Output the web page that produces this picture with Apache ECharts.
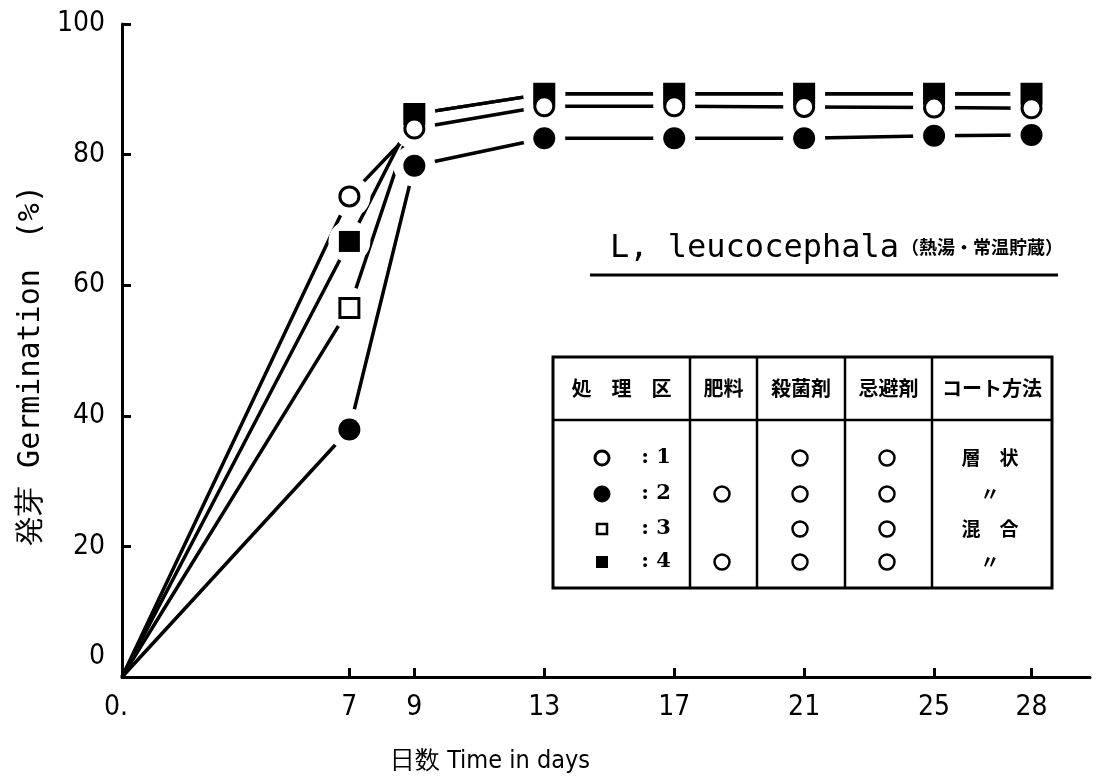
<!DOCTYPE html>
<html>
<head>
<meta charset="utf-8">
<script src="https://cdn.jsdelivr.net/npm/echarts@6/dist/echarts.min.js"></script>
<style>html,body{margin:0;padding:0;background:#fff}#c{width:1098px;height:779px}</style>
</head>
<body>
<div id="c"></div>
<script>
// ---- data ----
const days = [0, 7, 9, 13, 17, 21, 25, 28];
const s1 = [0, 73.6, 84.0, 87.4, 87.4, 87.3, 87.2, 87.1];   // open circle
const s2 = [0, 37.9, 78.3, 82.5, 82.5, 82.5, 82.9, 83.0];   // filled circle
const s3 = [0, 56.5, 86.2, 89.3, 89.3, 89.3, 89.3, 89.3];   // open square
const s4 = [0, 66.7, 86.2, 89.3, 89.3, 89.3, 89.3, 89.3];   // filled square
const yTicks = [0, 20, 40, 60, 80, 100];
const xTickDays = [7, 9, 13, 17, 21, 25, 28];
const xLabelDays = [0, 7, 9, 13, 17, 21, 25, 28];
const yName = '発芽 Germination　(%)';
const xName = '日数 Time in days';
const titleLatin = 'L, leucocephala';
const titleJa = '（熱湯・常温貯蔵）';
const tableHeaders = ['処　理　区', '肥料', '殺菌剤', '忌避剤', 'コート方法'];
const tableRowLabels = [': 1', ': 2', ': 3', ': 4'];
const tableFertilizer = [false, true, false, true];
const tableFungicide = [true, true, true, true];
const tableRepellent = [true, true, true, true];
const tableMethod = ['層　状', '〃', '混　合', '〃'];

const pts = a => days.map((d, i) => [d, a[i]]);
const marks = a => days.slice(1).map((d, i) => [d, a[i + 1]]);

const chart = echarts.init(document.getElementById('c'));
const LBL = '"DejaVu Sans Condensed", sans-serif';
const MONO = '"DejaVu Sans Mono", "Liberation Mono", monospace';
const JP = '"Noto Sans CJK JP", sans-serif';

const lineSeries = [s1, s2, s3, s4].map(a => ({
  type: 'line', data: pts(a), symbol: 'none', silent: true, z: 1, zlevel: 0,
  lineStyle: { color: '#000', width: 3.5, opacity: 1 },
  emphasis: { disabled: true }
}));

const halo = {
  type: 'scatter', silent: true, z: 5, zlevel: 0, symbol: 'circle', symbolSize: 42,
  itemStyle: { color: '#ffffff', opacity: 1, borderWidth: 0 },
  emphasis: { disabled: true },
  data: [].concat(marks(s1), marks(s2), marks(s3), marks(s4))
};

const markerSeries = [
  { data: marks(s3), symbol: 'rect', symbolSize: 19, itemStyle: { color: '#fff', borderColor: '#000', borderWidth: 3, opacity: 1 } },
  { data: marks(s4), symbol: 'rect', symbolSize: 21, itemStyle: { color: '#000', opacity: 1 } },
  { data: marks(s2), symbol: 'circle', symbolSize: 22, itemStyle: { color: '#000', opacity: 1 } },
  { data: marks(s1), symbol: 'circle', symbolSize: 19, itemStyle: { color: '#fff', borderColor: '#000', borderWidth: 3, opacity: 1 } }
].map(o => Object.assign({ type: 'scatter', silent: true, z: 8, zlevel: 0, emphasis: { disabled: true } }, o));

// ---- table graphic ----
const T = { left: 553, top: 357, right: 1052, bottom: 588, head: 420 };
const colX = [553, 690, 757, 845, 932, 1052];
const rowY = [458, 494, 529, 562];
const g = [];
g.push({ type: 'rect', shape: { x: T.left, y: T.top, width: T.right - T.left, height: T.bottom - T.top }, style: { fill: '#fff', stroke: '#000', lineWidth: 3 }, z: 10 });
g.push({ type: 'line', shape: { x1: T.left, y1: T.head, x2: T.right, y2: T.head }, style: { stroke: '#000', lineWidth: 2.5 }, z: 11 });
for (let i = 1; i < 5; i++) {
  g.push({ type: 'line', shape: { x1: colX[i], y1: T.top, x2: colX[i], y2: T.bottom }, style: { stroke: '#000', lineWidth: 2.5 }, z: 11 });
}
tableHeaders.forEach((h, i) => {
  g.push({ type: 'text', x: (colX[i] + colX[i + 1]) / 2, y: 388, z: 12,
    style: { text: h, font: 'bold 20px ' + JP, fill: '#000', align: 'center', verticalAlign: 'middle', textAlign: 'center', textVerticalAlign: 'middle' } });
});
const openC = (x, y, r, lw) => ({ type: 'circle', shape: { cx: x, cy: y, r: r }, style: { fill: '#fff', stroke: '#000', lineWidth: lw }, z: 12 });
rowY.forEach((y, i) => {
  if (i === 0) g.push(openC(602, y, 7, 3));
  if (i === 1) g.push({ type: 'circle', shape: { cx: 602, cy: y, r: 8.5 }, style: { fill: '#000' }, z: 12 });
  if (i === 2) g.push({ type: 'rect', shape: { x: 597, y: y - 5, width: 10, height: 10 }, style: { fill: '#fff', stroke: '#000', lineWidth: 2.5 }, z: 12 });
  if (i === 3) g.push({ type: 'rect', shape: { x: 596, y: y - 6, width: 12, height: 12 }, style: { fill: '#000' }, z: 12 });
  g.push({ type: 'text', x: 656, y: y, z: 12,
    style: { text: tableRowLabels[i], font: 'bold 21px "DejaVu Serif", serif', fill: '#000', align: 'center', verticalAlign: 'middle', textAlign: 'center', textVerticalAlign: 'middle' } });
  if (tableFertilizer[i]) g.push(openC(722, y, 7.5, 2.5));
  if (tableFungicide[i]) g.push(openC(800, y, 7.5, 2.5));
  if (tableRepellent[i]) g.push(openC(887, y, 7.5, 2.5));
  g.push({ type: 'text', x: 990, y: y, z: 12,
    style: { text: tableMethod[i], font: 'bold 19px ' + JP, fill: '#000', align: 'center', verticalAlign: 'middle', textAlign: 'center', textVerticalAlign: 'middle' } });
});
// title + underline
g.push({ type: 'text', x: 610, y: 265, z: 12,
  style: { text: '{a|' + titleLatin + '}{b|' + titleJa + '}', fill: '#000', align: 'left', verticalAlign: 'bottom', textAlign: 'left', textVerticalAlign: 'bottom',
    rich: { a: { font: '32px ' + MONO, fill: '#000' }, b: { font: 'bold 18px ' + JP, fill: '#000', padding: [0, 0, 3, 2] } } } });
g.push({ type: 'line', shape: { x1: 590, y1: 275, x2: 1058, y2: 275 }, style: { stroke: '#000', lineWidth: 3 }, z: 12 });

chart.setOption({
  animation: false,
  backgroundColor: '#fff',
  grid: { left: 122, right: 8, top: 24, bottom: 98, containLabel: false },
  xAxis: {
    type: 'value', min: 0, max: 29.8,
    name: xName, nameLocation: 'middle', nameGap: 72,
    nameTextStyle: { fontFamily: LBL, fontSize: 25, color: '#000', padding: [0, 232, 0, 0] },
    axisLine: { onZero: false, lineStyle: { color: '#000', width: 3 } },
    axisTick: { inside: true, length: 9, lineStyle: { color: '#000', width: 3 }, customValues: xTickDays },
    axisLabel: { customValues: xLabelDays, color: '#000', fontFamily: LBL, fontSize: 28, margin: 17,
      formatter: v => v === 0 ? '{z|0.}' : String(v),
      rich: { z: { fontFamily: LBL, fontSize: 28, color: '#000', padding: [0, 12, 0, 0] } } },
    splitLine: { show: false }
  },
  yAxis: {
    type: 'value', min: 0, max: 100, interval: 20,
    name: yName, nameLocation: 'middle', nameGap: 75, nameRotate: 90,
    nameTextStyle: { fontFamily: MONO, fontSize: 30, color: '#000', padding: [0, 30, 0, 0] },
    axisLine: { lineStyle: { color: '#000', width: 3 } },
    axisTick: { inside: true, length: 9, lineStyle: { color: '#000', width: 3 }, customValues: yTicks },
    axisLabel: { customValues: yTicks, color: '#000', fontFamily: LBL, fontSize: 28, margin: 17,
      formatter: v => v === 0 ? '{z|0}' : String(v),
      rich: { z: { fontFamily: LBL, fontSize: 28, color: '#000', padding: [0, 0, 40, 0] } } },
    splitLine: { show: false }
  },
  graphic: { elements: g },
  series: [].concat(lineSeries, [halo], markerSeries)
});
</script>
</body>
</html>
